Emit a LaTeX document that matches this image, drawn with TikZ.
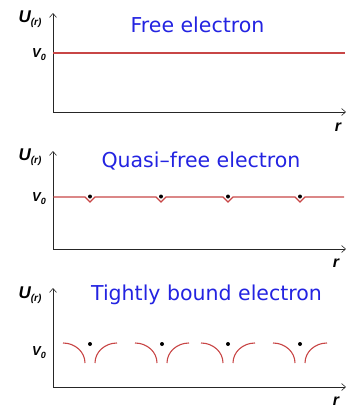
\documentclass[tikz,border=0pt]{standalone}
\usepackage{fontspec}
\setmainfont{DejaVu Sans}
\newfontfamily\labfont{Liberation Sans}
\usetikzlibrary{arrows.meta}
\definecolor{potred}{RGB}{200,70,70}
\definecolor{titleblue}{RGB}{35,35,225}
\tikzset{
  axis/.style={line width=0.8pt, black!85, -{Straight Barb[length=4pt,width=7pt,line width=0.6pt]}},
  pot/.style={line width=1.1pt, draw=potred},
  title/.style={text=titleblue, font=\fontsize{20.5}{22}\selectfont, anchor=base, inner sep=0pt},
  lab/.style={font=\labfont\bfseries\itshape, inner sep=0pt},
  rlab/.style={font=\labfont\bfseries\itshape\fontsize{16}{16}\selectfont, inner sep=0pt},
  electron/.style={circle, fill=black, inner sep=0pt, minimum size=4pt},
}
\newcommand{\Ulab}{\fontsize{17}{17}\selectfont U\raisebox{-3pt}{\fontsize{10}{10}\selectfont(r)}}
\newcommand{\Vlab}{\fontsize{13}{13}\selectfont V\raisebox{-3pt}{\fontsize{9}{9}\selectfont 0}}
\begin{document}
\begin{tikzpicture}[x=1pt,y=-1pt]
\useasboundingbox (0,0) rectangle (351,410);
% ---------- Panel 1 ----------
\coordinate (o1) at (53,112);
\coordinate (yt1) at (53,13);
\coordinate (xe1) at (346,112);
\draw[axis] (o1) -- (yt1);
\draw[axis] (o1) -- (xe1);
\node[lab] (u1) at (30,19) {\Ulab};
\node[lab] (v1) at (39,55) {\Vlab};
\node[rlab] (r1) at (338,127) {r};
\node[title] (t1) at (197.5,32) {Free electron};
\coordinate (pa) at (53.4,53);
\coordinate (pb) at (345,53);
\draw[pot] (pa) -- (pb);
% ---------- Panel 2 ----------
\coordinate (o2) at (53,249);
\coordinate (yt2) at (53,151);
\coordinate (xe2) at (346,249);
\draw[axis] (o2) -- (yt2);
\draw[axis] (o2) -- (xe2);
\node[lab] (u2) at (30,157) {\Ulab};
\node[lab] (v2) at (39,199) {\Vlab};
\node[rlab] (r2) at (336,263) {r};
\node[title] (t2) at (201,167) {Quasi–free electron};
\draw[pot] (53.4,197) -- (85,197) -- (90,202) -- (95,197)
  -- (156,197) -- (161,202) -- (166,197)
  -- (223,197) -- (228,202) -- (233,197)
  -- (295,197) -- (300,202) -- (305,197) -- (344,197);
\foreach \x/\n in {90/1,161/2,228/3,300/4} {
  \node[electron] (q\n) at (\x,196.5) {};
}
% ---------- Panel 3 ----------
\coordinate (o3) at (53,387);
\coordinate (yt3) at (53,288);
\coordinate (xe3) at (346,387);
\draw[axis] (o3) -- (yt3);
\draw[axis] (o3) -- (xe3);
\node[lab] (u3) at (30,295) {\Ulab};
\node[lab] (v3) at (39,353) {\Vlab};
\node[rlab] (r3) at (336,401) {r};
\node[title] (t3) at (206.5,300) {Tightly bound electron};
\foreach \x/\n in {90/1,162/2,228/3,300/4} {
  \draw[pot] (\x-27,343) arc[start angle=90, end angle=0, x radius=22, y radius=-20];
  \draw[pot] (\x+5,363) arc[start angle=180, end angle=90, x radius=22, y radius=-20];
  \node[electron] (d\n) at (\x,344) {};
}
\end{tikzpicture}
\end{document}
